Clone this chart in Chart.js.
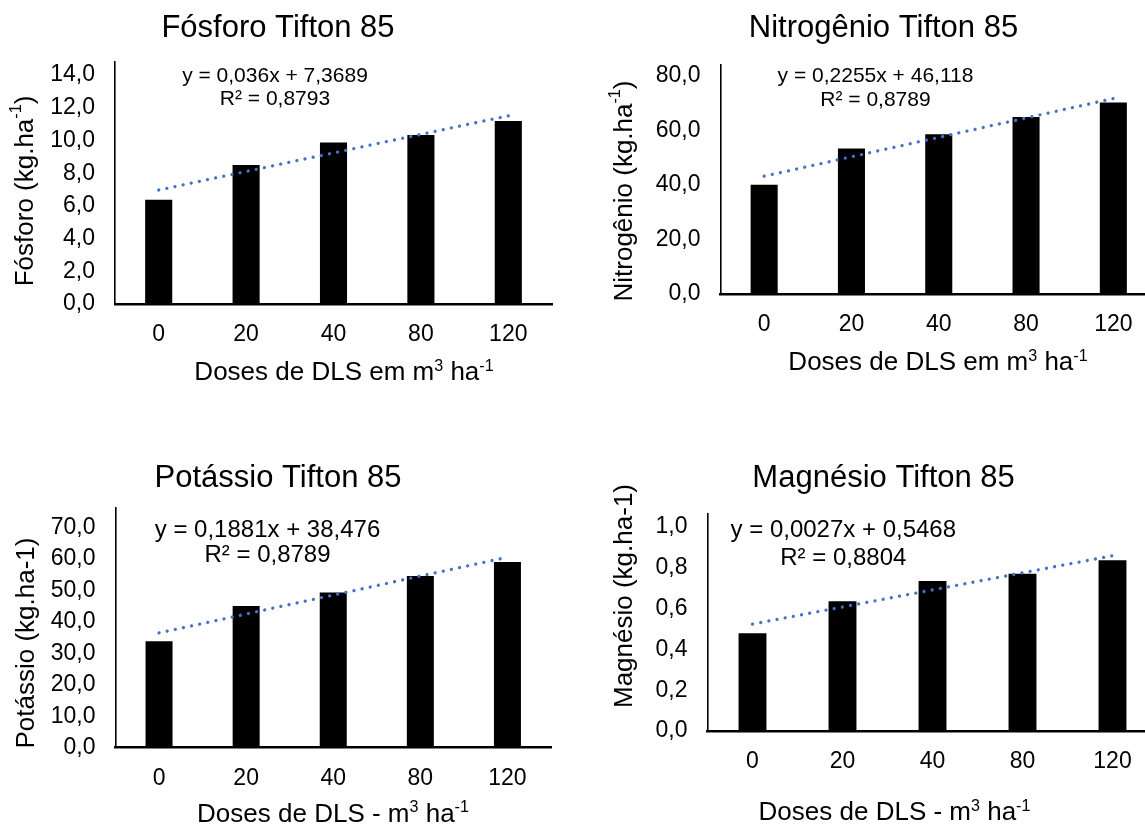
<!DOCTYPE html>
<html lang="pt">
<head>
<meta charset="utf-8">
<title>Tifton 85 – doses de DLS</title>
<script src="https://cdn.jsdelivr.net/npm/chart.js@4.4.1/dist/chart.umd.min.js"></script>
<style>
  html, body { margin: 0; padding: 0; background: #fff; }
  #page { position: relative; width: 1145px; height: 825px; overflow: hidden; background: #fff; }
  #page canvas { position: absolute; }
</style>
</head>
<body>
<div id="page">
  <canvas id="cFosforo"></canvas>
  <canvas id="cNitrogenio"></canvas>
  <canvas id="cPotassio"></canvas>
  <canvas id="cMagnesio"></canvas>
</div>
<script>
// Doses de dejeto líquido de suíno (categorias do eixo X)
const doses = ['0', '20', '40', '80', '120'];

// Teores medidos por dose
const fosforo    = [6.38, 8.50, 9.88, 10.33, 11.19];
const nitrogenio = [40.05, 53.4, 58.6, 64.9, 70.2];
const potassio   = [33.85, 45.08, 49.4, 54.6, 59.1];
const magnesio   = [0.479, 0.636, 0.735, 0.771, 0.837];

// Linha de tendência: valor no início (dose 0) e no fim (dose 120)
const fosforoTrend    = [6.97, 11.51];
const nitrogenioTrend = [43.2, 71.7];
const potassioTrend   = [36.5, 60.6];
const magnesioTrend   = [0.524, 0.859];

// Marcas do eixo Y
const fosforoTicks    = [0, 2, 4, 6, 8, 10, 12, 14];
const nitrogenioTicks = [0, 20, 40, 60, 80];
const potassioTicks   = [0, 10, 20, 30, 40, 50, 60, 70];
const magnesioTicks   = [0, 0.2, 0.4, 0.6, 0.8, 1.0];

// Equações e coeficientes das regressões
const fosforoEq    = ['y = 0,036x + 7,3689', 'R² = 0,8793'];
const nitrogenioEq = ['y = 0,2255x + 46,118', 'R² = 0,8789'];
const potassioEq   = ['y = 0,1881x + 38,476', 'R² = 0,8789'];
const magnesioEq   = ['y = 0,0027x + 0,5468', 'R² = 0,8804'];

const FONT = '"Liberation Sans", Arial, Helvetica, sans-serif';
const SUP = 0.62;

function trendSeries(ends) {
  return doses.map((_, i) => i === 0 ? ends[0] : (i === doses.length - 1 ? ends[1] : null));
}
const fmt = v => Number(v).toFixed(1).replace('.', ',');

// Texto com partes sobrescritas: parts = [[texto, sobrescrito?], ...]
function richWidth(ctx, parts, size) {
  let w = 0;
  for (const [t, sup] of parts) {
    ctx.font = (sup ? size * SUP : size) + 'px ' + FONT;
    w += ctx.measureText(t).width;
  }
  return w;
}
function drawRich(ctx, parts, cx, cy, size, baseline) {
  const w = richWidth(ctx, parts, size);
  let x = cx - w / 2;
  ctx.textAlign = 'left';
  ctx.textBaseline = baseline;
  for (const [t, sup] of parts) {
    ctx.font = (sup ? size * SUP : size) + 'px ' + FONT;
    ctx.fillText(t, x, sup ? cy - size * 0.36 : cy);
    x += ctx.measureText(t).width;
  }
}

// Títulos, equações e rótulos dos eixos desenhados sobre cada painel
const panelText = {
  id: 'panelText',
  afterDraw(chart, args, o) {
    const ctx = chart.ctx;
    ctx.save();
    ctx.fillStyle = '#000';
    // título
    ctx.font = o.title.size + 'px ' + FONT;
    ctx.textAlign = 'center';
    ctx.textBaseline = 'alphabetic';
    ctx.fillText(o.title.text, o.title.x, o.title.y);
    // equação e R²
    ctx.font = o.eq.size + 'px ' + FONT;
    o.eq.lines.forEach((t, i) => ctx.fillText(t, o.eq.x, o.eq.y[i]));
    // título do eixo X
    drawRich(ctx, o.xTitle.parts, o.xTitle.x, o.xTitle.y, o.xTitle.size, 'alphabetic');
    // título do eixo Y (girado)
    ctx.translate(o.yTitle.x, o.yTitle.y);
    ctx.rotate(-Math.PI / 2);
    drawRich(ctx, o.yTitle.parts, 0, 0, o.yTitle.size, 'middle');
    ctx.restore();
  }
};

function makePanel(id, p) {
  const cv = document.getElementById(id);
  cv.width = p.w; cv.height = p.h;
  cv.style.left = p.x + 'px'; cv.style.top = p.y + 'px';
  cv.style.width = p.w + 'px'; cv.style.height = p.h + 'px';
  const X_H = 50;
  const tickFont = { family: FONT, size: 23 };
  return new Chart(cv, {
    type: 'bar',
    data: {
      labels: doses,
      datasets: [
        {
          type: 'line',
          data: trendSeries(p.trend),
          borderColor: '#4472C4',
          borderWidth: 3.3,
          borderDash: [0.01, 8.3],
          borderCapStyle: 'round',
          pointRadius: 0,
          spanGaps: true,
          fill: false,
          order: 0
        },
        {
          type: 'bar',
          data: p.values,
          backgroundColor: '#000',
          borderWidth: 0,
          barPercentage: 0.31,
          categoryPercentage: 1,
          order: 1
        }
      ]
    },
    options: {
      responsive: false,
      devicePixelRatio: 1,
      animation: false,
      events: [],
      layout: {
        padding: {
          left: 0,
          top: p.area.top,
          right: p.w - p.area.right,
          bottom: p.h - p.area.bottom - X_H
        }
      },
      scales: {
        x: {
          grid: { display: false, drawTicks: false },
          border: { display: true, color: '#000', width: 2.5 },
          ticks: { color: '#000', font: tickFont, padding: 17, maxRotation: 0 },
          afterFit(s) { s.height = X_H; }
        },
        y: {
          min: 0,
          max: p.max,
          grid: { display: false, drawTicks: false },
          border: { display: true, color: '#000', width: 1.6 },
          ticks: { color: '#000', font: tickFont, padding: 20, callback: v => fmt(v) },
          afterBuildTicks(s) { s.ticks = p.ticks.map(v => ({ value: v })); },
          afterFit(s) { s.width = p.area.left; }
        }
      },
      plugins: {
        legend: { display: false },
        tooltip: { enabled: false },
        panelText: p.text
      }
    },
    plugins: [panelText]
  });
}

const kgSup = [['Fósforo (kg.ha', false], ['-1', true], [')', false]];

makePanel('cFosforo', {
  x: 0, y: 0, w: 560, h: 400,
  area: { left: 115, top: 62, right: 552, bottom: 304 },
  max: 14.8, ticks: fosforoTicks, values: fosforo, trend: fosforoTrend,
  text: {
    title: { text: 'Fósforo Tifton 85', x: 278, y: 37, size: 31 },
    eq: { lines: fosforoEq, x: 275, y: [81.7, 105], size: 21 },
    yTitle: { parts: kgSup, x: 26, y: 191, size: 26 },
    xTitle: { parts: [['Doses de DLS em m', false], ['3', true], [' ha', false], ['-1', true]], x: 344, y: 380, size: 26 }
  }
});

makePanel('cNitrogenio', {
  x: 570, y: 0, w: 600, h: 400,
  area: { left: 150.5, top: 65, right: 587, bottom: 294 },
  max: 84, ticks: nitrogenioTicks, values: nitrogenio, trend: nitrogenioTrend,
  text: {
    title: { text: 'Nitrogênio Tifton 85', x: 313.5, y: 37, size: 31 },
    eq: { lines: nitrogenioEq, x: 305.5, y: [81.7, 106], size: 21 },
    yTitle: { parts: [['Nitrogênio (kg.ha', false], ['-1', true], [')', false]], x: 55, y: 191, size: 26 },
    xTitle: { parts: [['Doses de DLS em m', false], ['3', true], [' ha', false], ['-1', true]], x: 368, y: 370, size: 26 }
  }
});

makePanel('cPotassio', {
  x: 0, y: 450, w: 560, h: 375,
  area: { left: 115.5, top: 57.5, right: 551, bottom: 297.7 },
  max: 76.4, ticks: potassioTicks, values: potassio, trend: potassioTrend,
  text: {
    title: { text: 'Potássio Tifton 85', x: 278, y: 37, size: 31 },
    eq: { lines: potassioEq, x: 267.5, y: [86.7, 112.3], size: 24 },
    yTitle: { parts: [['Potássio (kg.ha-1)', false]], x: 27, y: 193, size: 26 },
    xTitle: { parts: [['Doses de DLS - m', false], ['3', true], [' ha', false], ['-1', true]], x: 333, y: 371.7, size: 26 }
  }
});

makePanel('cMagnesio', {
  x: 570, y: 450, w: 600, h: 375,
  area: { left: 137.5, top: 63.3, right: 587.5, bottom: 281 },
  max: 1.067, ticks: magnesioTicks, values: magnesio, trend: magnesioTrend,
  text: {
    title: { text: 'Magnésio Tifton 85', x: 313.6, y: 37, size: 31 },
    eq: { lines: magnesioEq, x: 273.3, y: [86.7, 115], size: 24 },
    yTitle: { parts: [['Magnésio (kg.ha-1)', false]], x: 55, y: 146, size: 26 },
    xTitle: { parts: [['Doses de DLS - m', false], ['3', true], [' ha', false], ['-1', true]], x: 324.5, y: 370, size: 26 }
  }
});
</script>
</body>
</html>
